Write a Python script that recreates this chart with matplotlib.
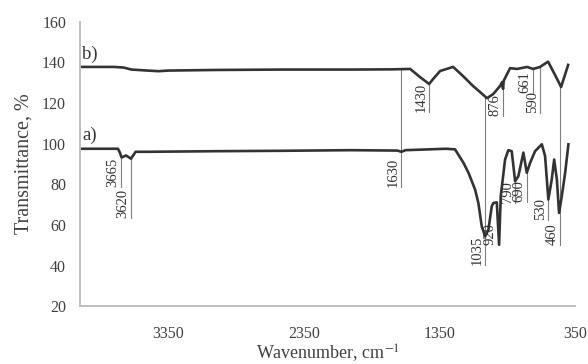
import matplotlib
matplotlib.use("Agg")
import matplotlib.pyplot as plt

plt.rcParams['font.family'] = ['Liberation Serif', 'DejaVu Serif']
plt.rcParams['mathtext.fontset'] = 'stix'

# spectrum b) (top)
wn_b = [4000, 3750, 3680, 3620, 3500, 3420, 3350, 3000, 2500, 2000, 1700,
        1566, 1493, 1426, 1397, 1345, 1249, 1176, 1102, 1050, 999, 954,
        903, 888, 881, 876, 829, 777, 704, 659, 608, 549, 482, 453, 401]
tr_b = [137.8, 137.8, 137.5, 136.5, 136.0, 135.7, 136.0, 136.3, 136.5, 136.5, 136.6,
        136.8, 132.8, 129.4, 131.8, 135.8, 137.8, 133.3, 128.4, 125.4, 122.4, 124.4,
        128.4, 130.3, 127.0, 131.0, 137.2, 136.8, 137.8, 136.8, 137.8, 140.4, 131.8, 127.9, 138.8]

# spectrum a) (bottom)
wn_a = [4000, 3720, 3705, 3693, 3660, 3624, 3590, 3500, 3000, 2500, 2000,
        1660, 1630, 1600, 1300, 1235, 1173, 1136, 1087, 1063, 1038, 1013,
        989, 964, 952, 927, 910, 898, 866, 842, 817, 792, 768, 731, 706,
        681, 645, 595, 571, 547, 522, 504, 484, 468, 448, 423, 399]
tr_a = [97.5, 97.5, 95.5, 93.2, 94.2, 92.6, 96.0, 96.0, 96.3, 96.5, 96.8,
        96.6, 96.0, 96.8, 97.5, 97.2, 90.6, 85.7, 77.4, 70.8, 59.3, 54.3,
        57.6, 69.2, 70.8, 71.1, 50.2, 74.0, 92.2, 96.8, 96.3, 81.5, 84.0, 95.6, 85.7,
        90.6, 96.3, 99.7, 93.9, 72.5, 82.3, 92.2, 82.3, 65.9, 74.1, 85.7, 99.7]

# peak marks: label, line position, line top, line bottom
peak_labels = ['3665', '3620', '1630', '1430', '1035', '876', '661', '590',
               '460', '790', '690', '530']
peak_wn = [3698, 3624, 1633, 1426, 1013, 881, 659, 608, 460, 792, 704, 547]
peak_top = [93.2, 92.6, 136.8, 129.4, 122.4, 127.0, 137.0, 137.8, 127.9, 81.5, 85.7, 72.5]
peak_bot = [78.9, 63.5, 78.9, 115.5, 40.3, 113.5, 124.9, 115.0, 50.2, 71.0, 71.5, 62.5]

fig = plt.figure(figsize=(5.88, 3.64), dpi=100)
ax = fig.add_axes([0.136, 0.159, 0.842, 0.781])

for w, t, b in zip(peak_wn, peak_top, peak_bot):
    ax.plot([w, w], [t, b], color='#7f7f7f', lw=0.8, zorder=1)

ax.plot(wn_b, tr_b, color='#333333', lw=1.9, zorder=2)
ax.plot(wn_a, tr_a, color='#333333', lw=1.9, zorder=2)

for lab, w, b in zip(peak_labels, peak_wn, peak_bot):
    ax.annotate(lab, xy=(w, b), xytext=(-1, 0), textcoords='offset points',
                rotation=90, ha='right', va='bottom', fontsize=10.5, color='#333333')
ax.annotate('920', xy=(917, 50.2), xytext=(-1, 0), textcoords='offset points',
            rotation=90, ha='right', va='bottom', fontsize=10.5, color='#333333')

ax.text(3985, 141.7, 'b)', fontsize=13.5, color='#333333', va='baseline')
ax.text(3985, 102.0, 'a)', fontsize=13.5, color='#333333', va='baseline')

ax.set_xlim(4000, 350)
ax.set_ylim(20, 160)
ax.set_xticks([3350, 2350, 1350, 350])
ax.set_yticks(range(20, 161, 20))
ax.tick_params(length=0, labelsize=11.5, labelcolor='#404040')
ax.tick_params(axis='y', pad=10)
ax.tick_params(axis='x', pad=14)
for s in ['top', 'right']:
    ax.spines[s].set_visible(False)
for s in ['left', 'bottom']:
    ax.spines[s].set_color('#bfbfbf')
    ax.spines[s].set_linewidth(1.4)

ax.set_ylabel('Transmittance, %', fontsize=14.5, color='#404040', labelpad=6)
ax.set_xlabel('Wavenumber, cm$^{-1}$', fontsize=13, color='#404040', labelpad=0)

fig.savefig('out.png', dpi=100)
